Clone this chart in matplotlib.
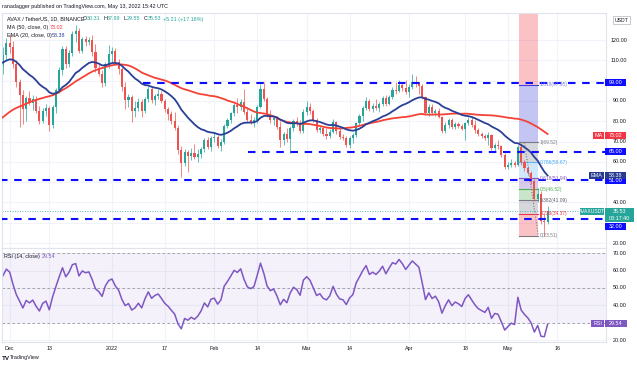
import matplotlib.pyplot as plt
import matplotlib.transforms as mtransforms
from matplotlib.patches import Rectangle
import numpy as np
import pandas as pd

plt.rcParams['font.family'] = ['Liberation Sans', 'DejaVu Sans']

W, H = 637, 367

# daily closes before the visible window (Sep 30 - Nov 28 2021), only used to warm up MA/EMA/RSI
prior_closes = [47.9,
                51.2, 52.7, 53.9, 57.0, 57.2, 55.8, 54.6, 54.0, 56.5, 53.6, 52.8, 53.2, 54.3, 56.6, 57.4, 55.2,
                55.0, 54.1, 56.8, 58.9, 57.0, 60.7, 61.9, 59.4, 62.8, 63.5, 60.1, 63.3, 62.3, 61.4, 64.9,
                67.5, 68.1, 67.6, 71.8, 69.6, 71.0, 71.5, 74.4, 76.5, 82.5, 88.3, 95.0, 93.0, 98.5, 101.0, 98.0,
                108.0, 116.0, 128.0, 136.5, 138.0, 127.0, 128.0, 122.0, 125.0, 113.0, 114.0, 107.0]

# AVAX/USDT 1D candles, Nov 29 2021 - May 13 2022 (day 0 = Dec 1)
opens = [107.0, 112.5,
         118.5, 116.5, 108.0, 99.5, 93.0, 86.0, 91.5, 89.0, 91.0, 85.0, 80.0, 85.0, 86.5, 78.0, 87.0, 95.5,
         105.0, 115.5, 108.0, 113.5, 123.0, 124.5, 114.5, 120.5, 119.0, 120.0, 114.0, 106.0, 103.5, 99.0, 108.0,
         113.0, 114.5, 109.0, 105.5, 97.0, 90.5, 92.0, 85.0, 86.5, 89.5, 85.0, 91.0, 96.0, 90.5, 92.5, 93.5,
         90.0, 86.0, 83.5, 80.0, 76.5, 66.0, 59.5, 65.0, 63.0, 64.5, 62.5, 64.0, 66.5, 70.5, 67.5,
         71.5, 72.0, 68.0, 70.0, 77.5, 80.5, 84.0, 88.0, 87.0, 89.5, 84.5, 80.5, 79.5, 80.5, 87.0, 96.0,
         91.0, 83.5, 80.5, 81.5, 77.0, 70.5, 73.5, 71.0, 76.5, 80.0, 78.5, 75.0,
         84.5, 87.0, 85.0, 80.5, 75.5, 76.5, 73.5, 72.5, 74.5, 79.5, 75.0, 72.0, 71.5, 68.5, 71.5, 73.0,
         79.0, 82.5, 86.5, 90.0, 86.0, 87.5, 86.5, 88.5, 91.5, 88.5, 92.0, 95.5, 95.0, 98.0, 96.5,
         94.5, 97.0, 99.5, 98.5, 97.5, 92.0, 84.0, 87.0, 84.0, 85.0, 82.0, 75.0, 78.0, 80.5, 77.0, 78.5,
         77.5, 76.0, 79.0, 80.5, 78.0, 75.5, 73.5, 72.5, 71.5, 73.0, 67.0, 68.5, 68.0, 63.5,
         57.5, 58.5, 59.5, 58.5, 67.5, 60.0, 57.0, 54.5, 50.5, 41.5, 44.0, 31.0, 30.31]
highs = [116.5, 121.0,
         123.0, 119.5, 110.0, 101.0, 95.5, 92.5, 95.0, 93.0, 92.5, 87.5, 86.5, 88.5, 87.5, 88.0, 96.5, 106.5,
         117.0, 117.0, 115.0, 124.5, 127.5, 126.0, 121.5, 122.0, 121.5, 122.5, 118.0, 108.5, 105.0, 109.0, 117.5,
         116.5, 116.0, 110.5, 106.5, 99.5, 93.5, 93.0, 90.0, 91.5, 91.0, 92.0, 97.5, 97.0, 93.5, 96.0, 95.0,
         91.0, 87.0, 85.0, 84.5, 78.0, 68.0, 66.5, 66.0, 67.0, 69.0, 66.5, 67.5, 71.5, 72.0, 72.5,
         74.0, 73.0, 71.0, 78.5, 81.5, 84.5, 89.0, 91.5, 91.0, 96.0, 87.0, 83.5, 82.0, 88.0, 98.5, 99.5,
         92.0, 85.5, 82.5, 82.5, 80.0, 74.5, 76.5, 77.5, 81.0, 82.0, 80.5, 86.0,
         90.0, 89.0, 86.0, 81.5, 77.5, 77.0, 76.5, 76.0, 81.0, 80.0, 77.0, 73.5, 72.5, 72.5, 74.0, 79.5,
         83.5, 87.5, 92.0, 91.0, 89.0, 91.0, 89.5, 92.5, 93.0, 93.0, 97.0, 99.5, 100.5, 99.5, 100.5,
         98.5, 103.5, 102.5, 99.5, 98.5, 92.5, 88.5, 88.5, 86.0, 86.5, 82.5, 79.5, 81.5, 81.5, 79.5, 79.5,
         78.5, 79.5, 82.0, 82.5, 80.5, 76.5, 74.5, 73.5, 74.5, 73.5, 69.5, 70.5, 68.5, 64.5,
         60.0, 61.5, 60.5, 68.5, 69.5, 61.0, 58.0, 55.5, 51.5, 47.0, 45.5, 34.5, 37.99]
lows = [103.5, 110.0,
        113.5, 106.0, 97.0, 77.0, 78.5, 80.0, 88.0, 85.5, 84.0, 78.5, 79.0, 82.5, 75.0, 76.5, 84.0, 94.0,
        103.0, 106.0, 106.5, 112.0, 119.0, 113.5, 113.5, 117.0, 117.5, 112.0, 104.0, 102.5, 97.0, 97.5, 106.0,
        109.0, 107.5, 103.5, 95.0, 86.0, 87.0, 79.5, 82.0, 85.0, 82.0, 84.0, 89.5, 89.0, 88.0, 91.0, 89.0,
        84.5, 80.5, 78.5, 75.5, 64.0, 52.5, 58.0, 55.0, 61.0, 61.5, 60.0, 62.0, 65.0, 66.5, 65.5,
        70.0, 67.0, 65.5, 69.0, 76.5, 79.0, 82.5, 84.0, 85.5, 83.5, 79.5, 78.5, 77.0, 79.0, 86.5, 90.0,
        82.0, 79.0, 78.0, 76.0, 67.5, 68.5, 70.0, 64.5, 75.0, 77.5, 74.0, 74.0,
        83.0, 83.5, 79.5, 74.5, 74.0, 72.5, 71.0, 71.5, 74.0, 73.5, 71.0, 70.5, 67.5, 67.0, 69.5, 72.0,
        78.0, 80.0, 85.5, 85.0, 84.5, 85.5, 84.5, 87.5, 87.5, 88.0, 91.0, 93.5, 94.5, 95.0, 93.5,
        92.0, 96.0, 97.0, 93.5, 91.0, 83.0, 82.5, 83.0, 82.5, 81.5, 74.0, 74.0, 76.5, 76.0, 76.0, 76.5,
        75.5, 70.5, 78.0, 77.0, 74.0, 72.5, 71.5, 70.5, 68.5, 66.0, 65.5, 66.5, 62.5, 56.5,
        56.5, 57.5, 57.5, 58.0, 58.5, 55.5, 53.5, 49.0, 40.5, 40.0, 29.5, 23.51, 29.55]
closes = [112.5, 118.5,
          116.5, 108.0, 99.5, 93.0, 86.0, 91.5, 89.0, 91.0, 85.0, 80.0, 85.0, 86.5, 78.0, 87.0, 95.5, 105.0,
          115.5, 108.0, 113.5, 123.0, 124.5, 114.5, 120.5, 119.0, 120.0, 114.0, 106.0, 103.5, 99.0, 108.0, 113.0,
          114.5, 109.0, 105.5, 97.0, 90.5, 92.0, 85.0, 86.5, 89.5, 85.0, 91.0, 96.0, 90.5, 92.5, 93.5, 90.0,
          86.0, 83.5, 80.0, 76.5, 66.0, 59.5, 65.0, 63.0, 64.5, 62.5, 64.0, 66.5, 70.5, 67.5, 71.5,
          72.0, 68.0, 70.0, 77.5, 80.5, 84.0, 88.0, 87.0, 89.5, 84.5, 80.5, 79.5, 80.5, 87.0, 96.0, 91.0,
          83.5, 80.5, 81.5, 77.0, 70.5, 73.5, 71.0, 76.5, 80.0, 78.5, 75.0, 84.5,
          87.0, 85.0, 80.5, 75.5, 76.5, 73.5, 72.5, 74.5, 79.5, 75.0, 72.0, 71.5, 68.5, 71.5, 73.0, 79.0,
          82.5, 86.5, 90.0, 86.0, 87.5, 86.5, 88.5, 91.5, 88.5, 92.0, 95.5, 95.0, 98.0, 96.5, 94.5,
          97.0, 99.5, 98.5, 97.5, 92.0, 84.0, 87.0, 84.0, 85.0, 82.0, 75.0, 78.0, 80.5, 77.0, 78.5, 77.5,
          76.0, 79.0, 80.5, 78.0, 75.5, 73.5, 72.5, 71.5, 73.0, 67.0, 68.5, 68.0, 63.5, 57.5,
          58.5, 59.5, 58.5, 67.5, 60.0, 57.0, 54.5, 50.5, 41.5, 44.0, 31.0, 30.31, 35.53]

support_levels = [99.0, 65.0, 51.0, 32.0]
support_start = [40.4, 72.2, -3.0, -3.0]

fib_ratios = [0, 0.236, 0.382, 0.5, 0.618, 0.786, 1, 1.618, 2.618]
fib_values = [23.51, 34.37, 41.09, 46.52, 51.94, 59.67, 69.52, 97.95, 143.96]
fib_colors = ['#787b86', '#f23645', '#787b86', '#4caf50', '#7e57c2', '#64b5f6', '#787b86', '#3f3fdc', '#f23645']
fib_label_colors = ['#787b86', '#f23645', '#5d606b', '#4caf50', '#7e57c2', '#42a5f5', '#787b86', '#7b7be6']

price_ticks = [20, 40, 60, 70, 80, 90, 110, 120]   # 30, 50, 100 sit under the level tags
rsi_ticks = [20, 40, 50, 60, 70]                    # 30 sits under the RSI tag

tick_days = [0, 12, 31, 47, 62, 75, 90, 103, 121, 138, 151, 166]
tick_labels = ['Dec', '13', '2022', '17', 'Feb', '14', 'Mar', '14', 'Apr', '18', 'May', '16']

UP, DOWN = '#26a69a', '#ef5350'
TXT = '#131722'
FS = 3.9

o, h, l, c = map(np.array, (opens, highs, lows, closes))
days = np.arange(-2, -2 + len(c))

all_c = pd.Series(prior_closes + closes)
all_days = np.arange(days[0] - len(prior_closes), days[-1] + 1)
ma50 = all_c.rolling(50).mean()
ema20 = all_c.ewm(span=20, adjust=False).mean()
diff = all_c.diff()
gain = diff.clip(lower=0).ewm(alpha=1 / 14, adjust=False).mean()
loss = (-diff.clip(upper=0)).ewm(alpha=1 / 14, adjust=False).mean()
rsi = 100 - 100 / (1 + gain / loss)
vis = all_days >= -3

fig = plt.figure(figsize=(W / 100, H / 100), dpi=100)
fig.patch.set_facecolor('white')


def fx(px):
    return px / W


def fy(py):
    return 1 - py / H


ax = fig.add_axes([fx(2), fy(248), (606 - 2) / W, (248 - 12.5) / H])
rax = fig.add_axes([fx(2), fy(342), (606 - 2) / W, (342 - 248) / H])

for a in (ax, rax):
    a.set_xlim(-2.33, 180.7)
    a.set_xticks(tick_days)
    a.tick_params(length=0, labelbottom=False, labelleft=False)
    a.grid(color='#f0f3fa', lw=0.8)
    a.set_axisbelow(True)
    for s in a.spines.values():
        s.set_color('#e0e3eb')
        s.set_linewidth(0.8)

ax.set_ylim(17.54, 133.55)
ax.set_yticks(range(20, 130, 10))
rax.set_ylim(18.85, 73.06)
rax.set_yticks(range(20, 80, 10))

# fib retracement box
fx0, fx1 = 154.4, 160.2
for i in range(1, len(fib_values)):
    ax.add_patch(Rectangle((fx0, fib_values[i - 1]), fx1 - fx0, fib_values[i] - fib_values[i - 1],
                           fc=fib_colors[i], alpha=0.3, lw=0, zorder=1))
for v, col in zip(fib_values[:-1], fib_colors[:-1]):
    ax.plot([fx0, fx1], [v, v], color=col, lw=0.8, zorder=1.5)
for r, v, col in zip(fib_ratios, fib_values, fib_label_colors):
    ax.text(160.6, v, f'{r:g}({v:.2f})', fontsize=3.5, color=col, va='center', zorder=4)
ax.plot([156.0, fx1], [69.52, 23.51], color='#787b86', lw=0.8, ls=(0, (1, 1.5)), zorder=3)

# candles
cols = np.where(c >= o, UP, DOWN)
ax.vlines(days, l, h, colors=cols, lw=0.5, zorder=2)
body = np.maximum(np.abs(c - o), 0.2)
ax.bar(days, body, bottom=np.minimum(o, c), width=0.65, color=cols, lw=0, zorder=2)

ax.plot(all_days[vis], ma50[vis], color='#f44336', lw=1.3, zorder=3)
ax.plot(all_days[vis], ema20[vis], color='#2a3f96', lw=1.3, zorder=3)

for lev, st in zip(support_levels, support_start):
    ax.plot([st, 181], [lev, lev], color='#0d0dff', lw=1.5, ls=(0, (3.6, 3.2)), zorder=3.5)
ax.axhline(35.53, color=UP, lw=0.6, ls=(0, (1, 2)), zorder=1.8)

# RSI pane
rax.axhspan(30, 70, color='#7e57c2', alpha=0.08, lw=0)
for v in (70, 50, 30):
    rax.axhline(v, color='#9598a1', lw=0.6, ls=(0, (3, 3)))
rax.plot(all_days[vis], rsi[vis], color='#7e57c2', lw=1.1)

inv = fig.transFigure.inverted()


def fig_y(a, v):
    return inv.transform(a.transData.transform((0, v)))[1]


for v in price_ticks:
    fig.text(fx(627), fig_y(ax, v), f'{v}.00', ha='right', va='center', fontsize=FS, color=TXT)
for v in rsi_ticks:
    fig.text(fx(627), fig_y(rax, v), f'{v}.00', ha='right', va='center', fontsize=FS, color=TXT)


def tag(yf, text, fc, x0, x1, hpx=7, tc='white', fs=FS):
    fig.add_artist(Rectangle((fx(x0), yf - hpx / 2 / H), (x1 - x0) / W, hpx / H,
                             transform=fig.transFigure, fc=fc, ec='none', zorder=10))
    fig.text(fx((x0 + x1) / 2), yf, text, ha='center', va='center', fontsize=fs, color=tc, zorder=11)


for lev in (99.0, 65.0, 51.0):
    tag(fig_y(ax, lev), f'{lev:.2f}', '#0d0dff', 605, 626)
tag(fy(226.3), '32.00', '#0d0dff', 605, 626)
tag(fig_y(ax, 73.02), '73.02', '#f23645', 605, 626)
tag(fig_y(ax, 73.02), 'MA', '#f23645', 592.5, 604)
tag(fig_y(ax, 53.38), '53.38', '#263a8f', 605, 626)
tag(fig_y(ax, 53.38), 'EMA', '#263a8f', 589, 604)
tag(fy(211.4), 'AVAXUSDT', UP, 580, 604, fs=3.6)
fig.add_artist(Rectangle((fx(605), fy(222)), 29 / W, 14 / H, transform=fig.transFigure,
                         fc=UP, ec='none', zorder=10))
fig.text(fx(619.5), fy(211.5), '35.53', ha='center', va='center', fontsize=FS, color='white', zorder=11)
fig.text(fx(619.5), fy(218.2), '08:17:40', ha='center', va='center', fontsize=FS, color='white', zorder=11)
tag(fig_y(rax, 29.54), '29.54', '#7e57c2', 605, 627)
tag(fig_y(rax, 29.54), 'RSI', '#7e57c2', 591, 604)

fig.text(fx(614.5), fy(20.3), 'USDT', ha='left', va='center', fontsize=3.7, color=TXT,
         bbox=dict(boxstyle='square,pad=0.3', fc='white', ec='#b2b5be', lw=0.5))

# date axis
btr = mtransforms.blended_transform_factory(rax.transData, rax.transAxes)
for d, lab in zip(tick_days, tick_labels):
    rax.text(d, -0.065, lab, transform=btr, ha='center', va='center', fontsize=FS, color=TXT, clip_on=False)

# header and legends
fig.text(fx(2), fy(6.8), 'ranadagger published on TradingView.com, May 13, 2022 15:42 UTC',
         fontsize=FS, color=TXT, va='center')
fig.text(fx(7), fy(19), 'AVAX / TetherUS, 1D, BINANCE', fontsize=FS, color=TXT, va='center')
ohlc_parts = [('O', '30.31', 83, 4.0), ('H', '37.99', 103, 3.8), ('L', '29.55', 124, 3.0), ('C', '35.53', 144, 3.8)]
for letter, val, px, off in ohlc_parts:
    fig.text(fx(px), fy(19), letter, fontsize=FS, color=TXT, va='center')
    fig.text(fx(px + off), fy(19), val, fontsize=FS, color=UP, va='center')
fig.text(fx(163), fy(19), '+5.21 (+17.18%)', fontsize=FS, color=UP, va='center')
fig.text(fx(7), fy(27.6), 'MA (50, close, 0)', fontsize=FS, color=TXT, va='center')
fig.text(fx(50), fy(27.6), '73.02', fontsize=FS, color='#f23645', va='center')
fig.text(fx(7), fy(35.3), 'EMA (20, close, 0)', fontsize=FS, color=TXT, va='center')
fig.text(fx(51.5), fy(35.3), '53.38', fontsize=FS, color='#2a3f96', va='center')
fig.text(fx(4), fy(256.5), 'RSI (14, close)', fontsize=FS, color=TXT, va='center')
fig.text(fx(42), fy(256.5), '29.54', fontsize=FS, color='#7e57c2', va='center')

fig.text(fx(2), fy(358), 'TV', fontsize=4.5, color=TXT, va='center', fontweight='bold')
fig.text(fx(10), fy(358), 'TradingView', fontsize=FS, color=TXT, va='center')

fig.savefig('out.png', dpi=100)
